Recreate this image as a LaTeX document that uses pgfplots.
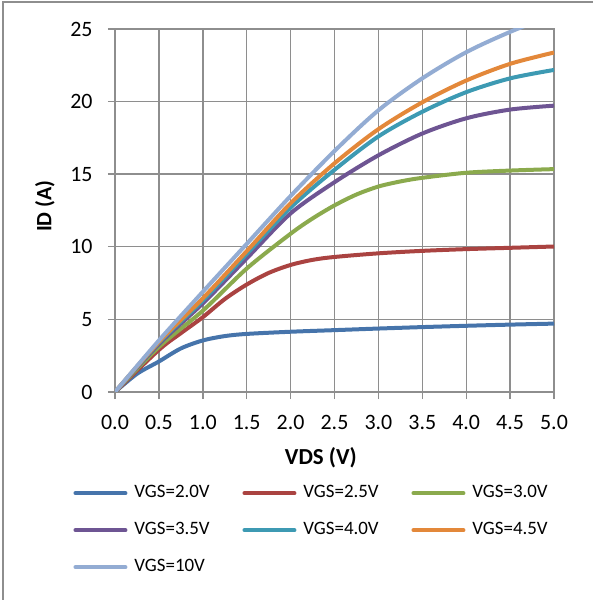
\documentclass[border=0pt]{standalone}
\usepackage{fontspec}
\setmainfont{Carlito}
\usepackage{pgfplots}
\pgfplotsset{compat=1.18}

\definecolor{cBlue}{HTML}{4674AB}
\definecolor{cRed}{HTML}{AA4341}
\definecolor{cGreen}{HTML}{8BAA4D}
\definecolor{cPurple}{HTML}{6E5593}
\definecolor{cTeal}{HTML}{3D9AB3}
\definecolor{cOrange}{HTML}{E3883A}
\definecolor{cLight}{HTML}{93ACD3}
\definecolor{cGrid}{HTML}{8E8E8E}

\begin{document}
\begin{tikzpicture}
\useasboundingbox (0,0) rectangle (593bp,600bp);
\draw[cGrid, line width=1.2bp] (3bp,-5bp) rectangle (598bp,598bp);
\begin{axis}[
    at={(115bp,208bp)}, anchor=south west,
    scale only axis,
    width=439bp, height=363bp,
    xmin=0, xmax=5, ymin=0, ymax=25,
    xtick={0,0.5,...,5},
    xticklabels={0.0,0.5,1.0,1.5,2.0,2.5,3.0,3.5,4.0,4.5,5.0},
    ytick={0,5,10,15,20,25},
    grid=major,
    grid style={cGrid, line width=1.4bp},
    axis line style={cGrid, line width=1.4bp},
    tick style={cGrid, line width=1.4bp},
    tick align=outside,
    major tick length=7bp,
    xtick pos=bottom, ytick pos=left,
    /pgf/number format/assume math mode=true,
    xticklabel style={font=\fontsize{22}{24}\selectfont, yshift=-13bp},
    yticklabel style={font=\fontsize{22}{24}\selectfont, xshift=-12bp},
    xlabel={VDS (V)},
    ylabel={ID (A)},
    xlabel style={font=\fontsize{23}{26}\selectfont\bfseries,
        at={(axis description cs:0.469,-0.182)}, anchor=center},
    ylabel style={font=\fontsize{22}{26}\selectfont\bfseries,
        at={(axis description cs:-0.1595,0.512)}, anchor=center},
    legend columns=3,
    legend cell align=left,
    legend image code/.code={
        \draw[#1, line cap=round] (0bp,0bp) -- (50bp,0bp);
        \path (57bp,0bp);
    },
    legend style={
        at={(axis description cs:-0.0951,-0.2548)}, anchor=north west,
        draw=none, fill=none, inner sep=0pt,
        font=\fontsize{19}{22}\selectfont,
        row sep=20bp, column sep=0pt,
        nodes={inner sep=0pt, text width=95bp, text height=13bp, text depth=4bp},
        /tikz/every even column/.append style={column sep=13bp},
    },
    every axis plot/.append style={line width=4bp, smooth, no markers},
]
\addplot[cBlue] coordinates {
(0,0) (0.25,1.25) (0.5,2.1) (0.75,3.0) (1.0,3.55) (1.25,3.85) (1.5,4.0)
(2.0,4.15) (2.5,4.26) (3.0,4.37) (3.5,4.47) (4.0,4.56) (4.5,4.64) (5.0,4.71)};
\addlegendentry{VGS=2.0V}
\addplot[cRed] coordinates {
(0,0) (0.5,2.9) (0.75,4.05) (1.0,5.15) (1.25,6.4) (1.5,7.4) (1.75,8.2)
(2.0,8.75) (2.25,9.1) (2.5,9.3) (3.0,9.55) (3.5,9.72) (4.0,9.84) (4.5,9.93) (5.0,10.02)};
\addlegendentry{VGS=2.5V}
\addplot[cGreen] coordinates {
(0,0) (0.5,3.1) (1.0,5.6) (1.5,8.5) (2.0,10.9) (2.25,11.95) (2.5,12.85)
(2.75,13.6) (3.0,14.15) (3.25,14.5) (3.5,14.75) (4.0,15.1) (4.5,15.25) (5.0,15.35)};
\addlegendentry{VGS=3.0V}
\addplot[cPurple] coordinates {
(0,0) (0.5,3.3) (1.0,6.1) (1.5,9.2) (2.0,12.3) (2.5,14.45) (3.0,16.3)
(3.5,17.8) (4.0,18.85) (4.5,19.45) (5.0,19.72)};
\addlegendentry{VGS=3.5V}
\addplot[cTeal] coordinates {
(0,0) (0.5,3.4) (1.0,6.3) (1.5,9.5) (2.0,12.7) (2.5,15.3) (3.0,17.6)
(3.5,19.3) (4.0,20.65) (4.5,21.6) (5.0,22.18)};
\addlegendentry{VGS=4.0V}
\addplot[cOrange] coordinates {
(0,0) (0.5,3.45) (1.0,6.45) (1.5,9.7) (2.0,13.0) (2.5,15.75) (3.0,18.1)
(3.5,19.95) (4.0,21.45) (4.5,22.6) (5.0,23.38)};
\addlegendentry{VGS=4.5V}
\addplot[cLight] coordinates {
(0,0) (0.5,3.55) (1.0,6.9) (1.5,10.2) (2.0,13.5) (2.5,16.6) (3.0,19.4)
(3.5,21.6) (4.0,23.4) (4.5,24.8) (5.0,26.0)};
\addlegendentry{VGS=10V}
\end{axis}
\end{tikzpicture}
\end{document}
